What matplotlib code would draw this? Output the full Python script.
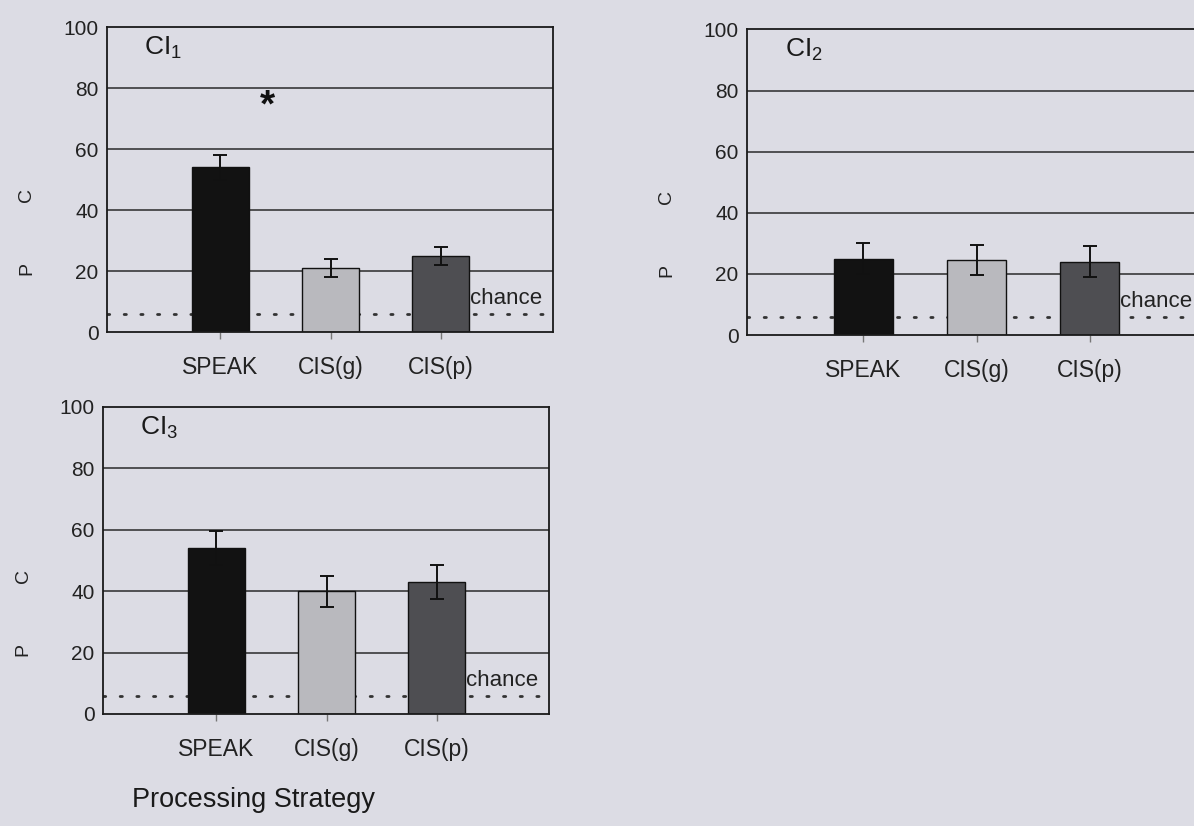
import numpy as np
import matplotlib.pyplot as plt
from matplotlib.transforms import ScaledTranslation

plt.rcParams['font.family'] = ['Liberation Sans', 'DejaVu Sans']
plt.rcParams['mathtext.fontset'] = 'custom'
plt.rcParams['mathtext.rm'] = 'Liberation Sans'
plt.rcParams['mathtext.it'] = 'Liberation Sans'

strategies = ['SPEAK', 'CIS(g)', 'CIS(p)']
panel_names = [r'$\mathrm{CI}_1$', r'$\mathrm{CI}_2$', r'$\mathrm{CI}_3$']

ci1_means = [54, 21, 25]
ci1_err = [4, 3, 3]
ci2_means = [25, 24.5, 24]
ci2_err = [5, 5, 5]
ci3_means = [54, 40, 43]
ci3_err = [5.5, 5, 5.5]

chance_level = 6
yticks = [0, 20, 40, 60, 80, 100]

bg = '#dcdce4'
bar_colors = ['#121212', '#b9b9be', '#4e4e52']


def draw_panel(ax, name, means, errs, star=None):
    x = np.arange(len(strategies))
    ax.set_facecolor(bg)
    for y in yticks[1:-1]:
        ax.axhline(y, color='#2a2a2a', lw=1.1, zorder=1)
    ax.axhline(chance_level, color='#333333', lw=2.0, ls=(0, (0.8, 5.2)),
               dash_capstyle='round', zorder=1)
    ax.bar(x, means, width=0.52, color=bar_colors, edgecolor='#111111',
           lw=1.0, zorder=2)
    ax.errorbar(x, means, yerr=errs, fmt='none', ecolor='#111111',
                elinewidth=1.4, capsize=5, capthick=1.4, zorder=3)
    ax.set_xlim(-1.03, 3.02)
    ax.set_ylim(0, 100)
    ax.set_yticks(yticks)
    ax.set_xticks(x)
    ax.set_xticklabels(strategies, fontsize=16.5, color='#222222')
    ax.tick_params(axis='y', length=0, pad=6, labelsize=15,
                   labelcolor='#222222')
    ax.tick_params(axis='x', length=5, direction='out', width=1,
                   color='#777777', pad=12)
    for s in ax.spines.values():
        s.set_color('#1a1a1a')
        s.set_linewidth(1.3)
    ax.text(-0.69, 97.5, name, fontsize=19, va='top', ha='left',
            color='#1a1a1a')
    ax.text(2.265, 11, 'chance', fontsize=16, ha='left', va='center',
            color='#222222')
    # rotated axis letters, a fixed distance left of the y axis
    off = ax.transData + ScaledTranslation(-0.80, 0, ax.figure.dpi_scale_trans)
    for letter, yv in (('P', 21), ('C', 45)):
        ax.text(-1.03, yv, letter, rotation=90, fontsize=14,
                ha='center', va='center', transform=off,
                color='#222222', clip_on=False)
    if star is not None:
        ax.text(star[0], star[1], '*', fontsize=28, ha='center',
                va='center', fontweight='bold', color='#111111')


fig = plt.figure(figsize=(11.94, 8.26), dpi=100)
fig.patch.set_facecolor(bg)

ax1 = fig.add_axes([0.0896, 0.598, 0.3735, 0.369])
ax2 = fig.add_axes([0.6256, 0.5944, 0.3836, 0.370])
ax3 = fig.add_axes([0.0863, 0.1356, 0.3735, 0.3717])

draw_panel(ax1, panel_names[0], ci1_means, ci1_err, star=(0.43, 74))
draw_panel(ax2, panel_names[1], ci2_means, ci2_err)
draw_panel(ax3, panel_names[2], ci3_means, ci3_err)

fig.text(0.212, 0.031, 'Processing Strategy', fontsize=19.5, ha='center',
         va='center', color='#1a1a1a')

fig.savefig('out.png', dpi=100, facecolor=bg)
